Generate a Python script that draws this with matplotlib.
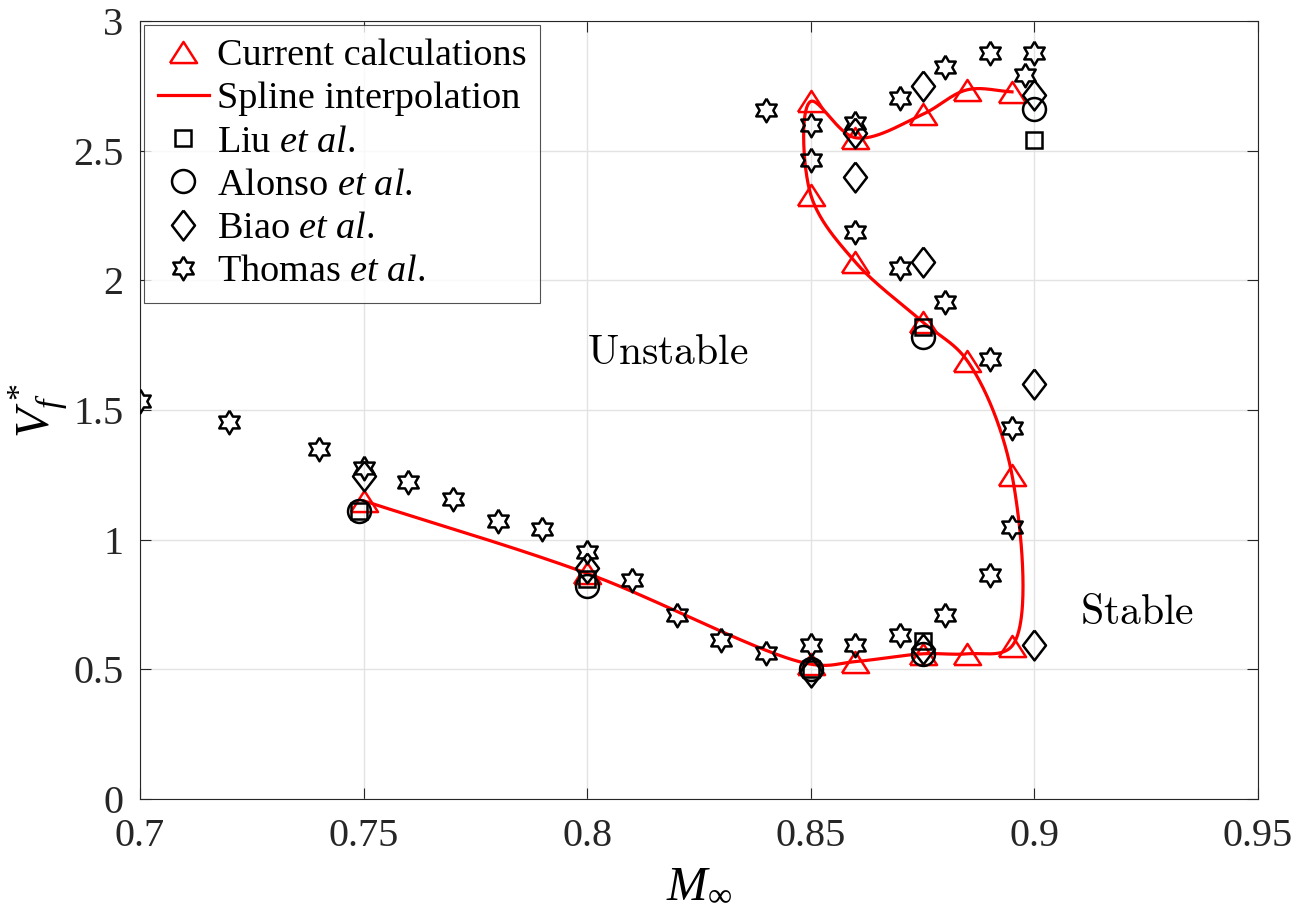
import numpy as np
import matplotlib
matplotlib.use('Agg')
import matplotlib.pyplot as plt

plt.rcParams['font.family'] = ['Liberation Serif', 'DejaVu Serif']
plt.rcParams['mathtext.fontset'] = 'custom'
plt.rcParams['mathtext.rm'] = 'Liberation Serif'
plt.rcParams['mathtext.it'] = 'Liberation Serif:italic'

# current calculations (ordered along the flutter boundary)
cur_m = [0.75, 0.80, 0.85, 0.86, 0.875, 0.885, 0.895, 0.895, 0.885, 0.875,
         0.86, 0.85, 0.85, 0.86, 0.875, 0.885, 0.895]
cur_v = [1.15, 0.87, 0.52, 0.53, 0.56, 0.56, 0.59, 1.25, 1.69, 1.84,
         2.07, 2.33, 2.69, 2.55, 2.64, 2.735, 2.727]

liu_m = [0.749, 0.80, 0.85, 0.875, 0.875, 0.90]
liu_v = [1.11, 0.85, 0.50, 0.61, 1.82, 2.54]

alonso_m = [0.749, 0.80, 0.85, 0.875, 0.875, 0.90]
alonso_v = [1.11, 0.82, 0.50, 0.56, 1.78, 2.66]

biao_m = [0.75, 0.80, 0.85, 0.875, 0.86, 0.86, 0.875, 0.875, 0.90, 0.90, 0.90]
biao_v = [1.245, 0.89, 0.49, 0.58, 2.57, 2.40, 2.07, 2.75, 1.60, 0.595, 2.715]

thomas_m = [0.70, 0.72, 0.74, 0.75, 0.76, 0.77, 0.78, 0.79, 0.80, 0.81,
            0.82, 0.83, 0.84, 0.85, 0.86, 0.87, 0.88, 0.89, 0.895, 0.895,
            0.89, 0.88, 0.87, 0.86, 0.85, 0.85, 0.84, 0.86, 0.87, 0.88,
            0.89, 0.898, 0.90]
thomas_v = [1.535, 1.454, 1.35, 1.276, 1.222, 1.157, 1.072, 1.04, 0.953, 0.845,
            0.71, 0.613, 0.563, 0.594, 0.594, 0.632, 0.71, 0.864, 1.05, 1.43,
            1.697, 1.917, 2.047, 2.187, 2.464, 2.599, 2.657, 2.607, 2.703, 2.823,
            2.877, 2.792, 2.877]


def catmull_rom(px, py, n=60):
    # centripetal Catmull-Rom spline through the points (screen-scaled coords)
    P = np.column_stack([px, py])
    d = np.sqrt(np.hypot(*np.diff(P, axis=0).T))
    t = np.concatenate([[0], np.cumsum(d)])
    m = len(P)
    D = np.zeros_like(P)
    D[0] = (P[1] - P[0]) / (t[1] - t[0])
    D[-1] = (P[-1] - P[-2]) / (t[-1] - t[-2])
    for i in range(1, m - 1):
        D[i] = ((P[i] - P[i - 1]) / (t[i] - t[i - 1])
                - (P[i + 1] - P[i - 1]) / (t[i + 1] - t[i - 1])
                + (P[i + 1] - P[i]) / (t[i + 1] - t[i]))
    out = []
    s = np.linspace(0, 1, n)[:, None]
    h00 = 2 * s**3 - 3 * s**2 + 1
    h10 = s**3 - 2 * s**2 + s
    h01 = -2 * s**3 + 3 * s**2
    h11 = s**3 - s**2
    for i in range(m - 1):
        h = t[i + 1] - t[i]
        out.append(h00 * P[i] + h10 * h * D[i] + h01 * P[i + 1] + h11 * h * D[i + 1])
    return np.vstack(out)


# spline interpolation of the current calculations
sx = np.array(cur_m) / 0.25 * 1118
sy = np.array(cur_v) / 3 * 778
curve = catmull_rom(sx, sy)
sm = curve[:, 0] * 0.25 / 1118
sv = curve[:, 1] * 3 / 778

# custom marker shapes
tri = [(-1, -0.78), (1, -0.78), (0, 0.78), (-1, -0.78)]
dia = [(0, 1), (0.77, 0), (0, -1), (-0.77, 0), (0, 1)]
ang = np.deg2rad(90 + 30 * np.arange(12))
rad = np.where(np.arange(12) % 2 == 0, 1.0, 1 / np.sqrt(3))
hexa = list(zip(rad * np.cos(ang), rad * np.sin(ang)))
hexa.append(hexa[0])

fig = plt.figure(figsize=(13.06, 9.23), dpi=100)
ax = fig.add_axes([0.1072, 0.1343, 0.856, 0.8429])

mew = 1.8
ax.plot(cur_m, cur_v, linestyle='none', marker=tri, ms=19.5, mfc='none',
        mec='red', mew=mew, label='Current calculations', zorder=3)
ax.plot(sm, sv, color='red', lw=2.3, label='Spline interpolation', zorder=3)
ax.plot(liu_m, liu_v, linestyle='none', marker='s', ms=12, mfc='none',
        mec='black', mew=mew, label=r'Liu $\mathit{et\ al.}$', zorder=4)
ax.plot(alonso_m, alonso_v, linestyle='none', marker='o', ms=16.5, mfc='none',
        mec='black', mew=mew, label=r'Alonso $\mathit{et\ al.}$', zorder=4)
ax.plot(biao_m, biao_v, linestyle='none', marker=dia, ms=21.5, mfc='none',
        mec='black', mew=mew, label=r'Biao $\mathit{et\ al.}$', zorder=4)
ax.plot(thomas_m, thomas_v, linestyle='none', marker=hexa, ms=17, mfc='none',
        mec='black', mew=mew, label=r'Thomas $\mathit{et\ al.}$', zorder=4)

ax.text(0.818, 1.716, r'$\mathrm{Unstable}$', fontsize=30, ha='center',
        va='center', math_fontfamily='cm')
ax.text(0.923, 0.713, r'$\mathrm{Stable}$', fontsize=30, ha='center',
        va='center', math_fontfamily='cm')

ax.set_xlim(0.7, 0.95)
ax.set_ylim(0, 3)
ax.set_xticks([0.7, 0.75, 0.8, 0.85, 0.9, 0.95])
ax.set_xticklabels(['0.7', '0.75', '0.8', '0.85', '0.9', '0.95'])
ax.set_yticks([0, 0.5, 1, 1.5, 2, 2.5, 3])
ax.set_yticklabels(['0', '0.5', '1', '1.5', '2', '2.5', '3'])
ax.tick_params(direction='in', length=8, width=0.8, labelsize=29,
               top=True, right=True, colors='#262626')
ax.tick_params(axis='x', pad=14)
ax.tick_params(axis='y', pad=12)
ax.grid(True, color='#e3e3e3', lw=1)
ax.set_axisbelow(True)
for s in ax.spines.values():
    s.set_color('#262626')
    s.set_linewidth(0.8)

ax.set_xlabel(r'$M_\infty$', fontsize=35, labelpad=6)
ax.set_ylabel(r'$V_f^*$', fontsize=35, labelpad=2)

leg = ax.legend(loc='upper left', fontsize=27.5, frameon=True, fancybox=False,
                edgecolor='#262626', borderaxespad=0.1, handlelength=1.35,
                handletextpad=0.2, labelspacing=0.22, borderpad=0.36)
leg.get_frame().set_linewidth(0.8)

fig.savefig('out.png', dpi=100)
